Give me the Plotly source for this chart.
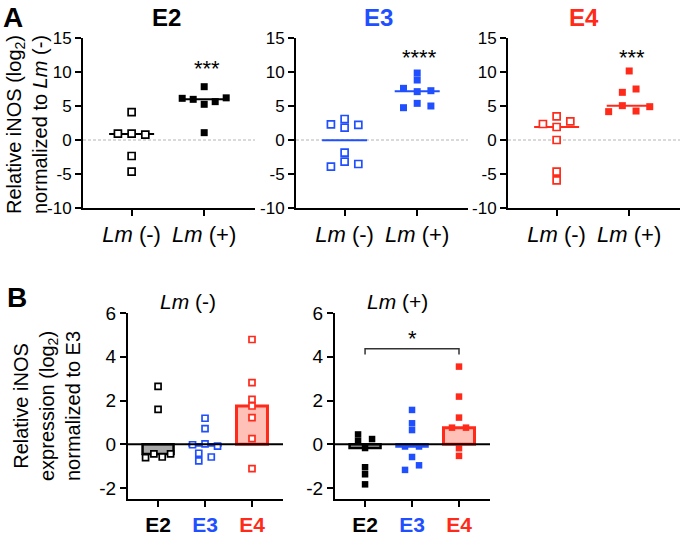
import numpy as np
import plotly.graph_objects as go

W, H = 680, 536
FONT = "Liberation Sans, Arial, sans-serif"

BLACK = "#000000"
BLUE = "#1f4fff"
RED = "#ff2a1a"

genotypes = ["E2", "E3", "E4"]
line_colors = [BLACK, BLUE, RED]
bar_fills = ["#a8a8a8", "#b8c8ff", "#ffc0b8"]
infection_labels = ["<i>Lm</i> (-)", "<i>Lm</i> (+)"]

# panel A: relative iNOS (log2), normalized to Lm(-), per genotype
a_e2_neg = [4.1, 0.95, 0.8, 0.95, -2.35, -4.65]
a_e2_pos = [7.84, 5.25, 5.64, 5.98, 6.2, 6.13, 1.08]
a_e3_neg = [3.09, 2.21, 2.30, 1.81, -1.86, -3.19, -3.53, -3.92]
a_e3_pos = [9.85, 8.82, 7.11, 7.25, 7.60, 5.39, 5.0, 4.75]
a_e4_neg = [3.48, 2.75, 1.91, 2.35, 0.0, -4.66, -5.93]
a_e4_pos = [10.15, 7.01, 7.5, 5.05, 4.26, 4.17, 4.90]
a_stars = ["***", "****", "***"]
a_yticks = [-10, -5, 0, 5, 10, 15]

# panel B: relative iNOS expression (log2), normalized to E3
b_neg_e2 = [2.65, 1.60, -0.44, -0.58, -0.61, -0.44]
b_neg_e3 = [1.19, 0.72, 0.02, -0.08, -0.02, -0.41, -0.58, -0.76]
b_neg_e4 = [4.79, 2.82, 2.05, 1.75, 1.22, 0.26, -1.11]
b_pos_e2 = [0.45, 0.24, 0.15, -0.17, -1.05, -1.37, -1.83]
b_pos_e3 = [1.57, 0.96, 0.65, -0.1, -0.1, -0.58, -1.17, -0.96]
b_pos_e4 = [3.55, 2.18, 1.22, 0.76, 0.76, -0.18, -0.53]
b_yticks = [-2, 0, 2, 4, 6]
b_sig = ("E2", "E4", "*")


def swarm(vals, unit_px, cat_px, gap_px, step_px, span_px):
    # simple column scatter: push colliding points sideways, then centre each clump
    vals = np.asarray(vals, float)
    thr = gap_px / unit_px
    slots = []
    for i, v in enumerate(vals):
        for s in (0, 1, -1, 2, -2, 3, -3):
            if all(slots[j] != s or abs(vals[j] - v) >= thr for j in range(i)):
                slots.append(s)
                break
    slots = np.array(slots, float)
    order = np.argsort(vals)
    groups, cur = [], [order[0]]
    for a, b in zip(order[:-1], order[1:]):
        if vals[b] - vals[a] < thr:
            cur.append(b)
        else:
            groups.append(cur)
            cur = [b]
    groups.append(cur)
    widest = 0
    for g in groups:
        lo, hi = slots[g].min(), slots[g].max()
        slots[g] -= (lo + hi) / 2
        widest = max(widest, hi - lo)
    step = step_px if widest == 0 else min(step_px, span_px / widest)
    return slots * step / cat_px


def px_x(p):
    return p / W


def px_y(p):
    return 1 - p / H


def axis(**kw):
    base = dict(showline=True, linecolor="black", linewidth=2, ticks="outside",
                ticklen=6, tickwidth=2, tickcolor="black", showgrid=False,
                zeroline=False, fixedrange=True, automargin=False)
    base.update(kw)
    return base


def label(text, x, y, size, color="black", angle=0, ref=("paper", "paper"), yanchor="middle"):
    return dict(text=text, x=x, y=y, xref=ref[0], yref=ref[1], showarrow=False,
                xanchor="center", yanchor=yanchor, textangle=angle,
                font=dict(size=size, color=color))


fig = go.Figure()
layout = dict(width=W, height=H, margin=dict(l=0, r=0, t=0, b=0, autoexpand=False),
              paper_bgcolor="white", plot_bgcolor="white", showlegend=False,
              font=dict(family=FONT, color="black", size=17))
shapes, annotations = [], []

# ---------------- panel A ----------------
A_TOP, A_BOT = 38, 208
A_RANGE = [-10, 15]
A_XRANGE = [-0.67, 1.7]
a_xdom = [(83, 255), (296, 468), (508, 680)]
a_sets = [(a_e2_neg, a_e2_pos), (a_e3_neg, a_e3_pos), (a_e4_neg, a_e4_pos)]
a_unit = (A_BOT - A_TOP) / (A_RANGE[1] - A_RANGE[0])

for k, (neg, pos) in enumerate(a_sets):
    n = k + 1
    sfx = "" if n == 1 else str(n)
    col = line_colors[k]
    x0, x1 = a_xdom[k]
    cat_px = (x1 - x0) / (A_XRANGE[1] - A_XRANGE[0])
    for i, vals in enumerate([neg, pos]):
        med = float(np.median(vals))
        fig.add_trace(go.Scatter(x=[i - 0.31, i + 0.31], y=[med, med], mode="lines",
                                 line=dict(color=col, width=2),
                                 xaxis="x" + sfx, yaxis="y" + sfx, hoverinfo="skip"))
        off = swarm(vals, a_unit, cat_px, 6.6, 13.7, 44)
        if i == 0:
            mk = dict(symbol="square", size=7, color="white", line=dict(color=col, width=1.7))
        else:
            mk = dict(symbol="square", size=7, color=col, line=dict(width=0))
        fig.add_trace(go.Scatter(x=i + off, y=vals, mode="markers", marker=mk,
                                 xaxis="x" + sfx, yaxis="y" + sfx))
    layout["xaxis" + sfx] = axis(domain=[px_x(x0), px_x(x1)], anchor="y" + sfx,
                                 range=A_XRANGE, tickvals=[0, 1], ticktext=infection_labels,
                                 tickfont=dict(size=22))
    layout["yaxis" + sfx] = axis(domain=[px_y(A_BOT), px_y(A_TOP)], anchor="x" + sfx,
                                 range=A_RANGE, tickvals=a_yticks,
                                 ticktext=[str(v) for v in a_yticks], tickfont=dict(size=17))
    shapes.append(dict(type="line", xref=f"x{sfx} domain", yref="y" + sfx,
                       x0=0, x1=1, y0=0, y1=0, layer="below",
                       line=dict(color="#b4b4b4", width=1, dash="3px,2px")))

a_title_x = [166, 378, 584]
for k, g in enumerate(genotypes):
    annotations.append(label(f"<b>{g}</b>", px_x(a_title_x[k]), px_y(17), 24, line_colors[k]))
a_star_pos = [(207, 68), (419, 57), (632, 57)]
for k, s in enumerate(a_stars):
    annotations.append(label(s, px_x(a_star_pos[k][0]), px_y(a_star_pos[k][1]), 22))
annotations.append(label("Relative iNOS (log<sub>2</sub>)<br>normalized to <i>Lm</i> (-)",
                         px_x(27), px_y(125), 20, angle=-90))
annotations.append(label("<b>A</b>", px_x(12.5), 1, 28, yanchor="top"))

# ---------------- panel B ----------------
B_TOP, B_BOT = 313, 499
B_RANGE = [-2.5, 6]
B_XRANGE = [-0.64, 2.66]
b_xdom = [(128, 283), (335, 490)]
b_sets = [[b_neg_e2, b_neg_e3, b_neg_e4], [b_pos_e2, b_pos_e3, b_pos_e4]]
b_unit = (B_BOT - B_TOP) / (B_RANGE[1] - B_RANGE[0])
b_ticktext = [f"<span style='color:{c}'><b>{g}</b></span>" for g, c in zip(genotypes, line_colors)]

for p, sets in enumerate(b_sets):
    n = p + 4
    sfx = str(n)
    x0, x1 = b_xdom[p]
    cat_px = (x1 - x0) / (B_XRANGE[1] - B_XRANGE[0])
    meds = [float(np.median(v)) for v in sets]
    fig.add_trace(go.Bar(x=[0, 1, 2], y=meds, width=0.66,
                         marker=dict(color=bar_fills,
                                     line=dict(color=line_colors, width=[2.5, 2.5, 3])),
                         xaxis="x" + sfx, yaxis="y" + sfx, hoverinfo="skip"))
    for i, vals in enumerate(sets):
        col = line_colors[i]
        off = swarm(vals, b_unit, cat_px, 6.4, 14, 25)
        if p == 0:
            mk = dict(symbol="square", size=6, color="white", line=dict(color=col, width=1.7))
        else:
            mk = dict(symbol="square", size=6.5, color=col, line=dict(width=0))
        fig.add_trace(go.Scatter(x=i + off, y=vals, mode="markers", marker=mk,
                                 xaxis="x" + sfx, yaxis="y" + sfx))
    layout["xaxis" + sfx] = axis(domain=[px_x(x0), px_x(x1)], anchor="y" + sfx,
                                 range=B_XRANGE, tickvals=[0, 1, 2], ticktext=b_ticktext,
                                 tickfont=dict(size=21))
    layout["yaxis" + sfx] = axis(domain=[px_y(B_BOT), px_y(B_TOP)], anchor="x" + sfx,
                                 range=B_RANGE, tickvals=b_yticks,
                                 ticktext=[str(v) for v in b_yticks], tickfont=dict(size=19))
    shapes.append(dict(type="line", xref=f"x{sfx} domain", yref="y" + sfx,
                       x0=0, x1=1, y0=0, y1=0, layer="above",
                       line=dict(color="black", width=2)))
    annotations.append(label(infection_labels[p], px_x([188, 397][p]), px_y(301), 21))

# significance bracket in Lm(+)
ia, ib = genotypes.index(b_sig[0]), genotypes.index(b_sig[1])
shapes.append(dict(type="path", xref="x5", yref="y5",
                   path=f"M {ia},4.1 L {ia},4.37 L {ib},4.37 L {ib},4.1",
                   line=dict(color="#333333", width=1.5)))
annotations.append(label(b_sig[2], (ia + ib) / 2, 4.82, 22, ref=("x5", "y5")))

annotations.append(label("Relative iNOS<br>expression (log<sub>2</sub>)<br>normalized to E3",
                         px_x(47), px_y(406), 20, angle=-90))
annotations.append(label("<b>B</b>", px_x(17), px_y(297), 28))

layout["shapes"] = shapes
layout["annotations"] = annotations
fig.update_layout(**layout)
fig.write_html("out.html", config={"displayModeBar": False},
               post_script="document.body.style.margin='0';")
